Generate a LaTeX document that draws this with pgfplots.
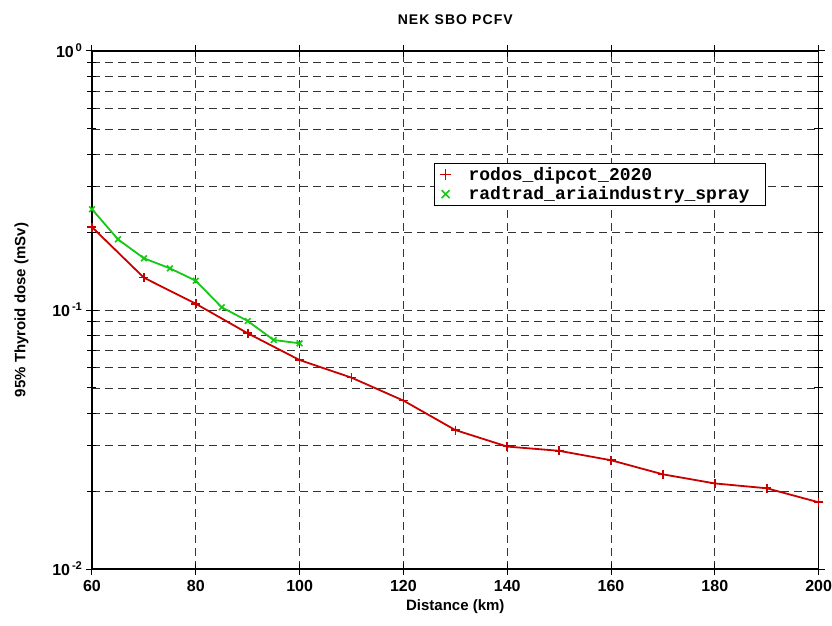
\documentclass[border=0pt]{standalone}
\usepackage{fontspec}
\setmainfont{Liberation Sans}
\setmonofont{Liberation Mono}
\usepackage{pgfplots}
\pgfplotsset{compat=1.18}
\definecolor{rodosred}{RGB}{200,0,0}
\definecolor{radgreen}{RGB}{20,200,20}
\begin{document}
\begin{tikzpicture}
\begin{axis}[
  scale only axis,
  width=726.6pt, height=518pt,
  ymode=log,
  xmin=60, xmax=200,
  ymin=0.01, ymax=1,
  xtick={60,80,...,200},
  ytick={0.01,0.1,1},
  yticklabels={10\textsuperscript{\,-2},10\textsuperscript{\,-1},10\textsuperscript{\,0}},
  /pgf/number format/assume math mode=true,
  tick label style={font=\fontsize{16}{18}\selectfont\bfseries},
  xticklabel style={yshift=-2pt},
  label style={font=\fontsize{15}{18}\selectfont\bfseries},
  xlabel={Distance (km)},
  ylabel={95\% Thyroid dose (mSv)},
  xlabel style={yshift=-1pt},
  ylabel style={yshift=17pt},
  title={NEK SBO PCFV},
  title style={font=\fontsize{14}{16}\selectfont\bfseries\addfontfeatures{LetterSpace=8}, yshift=17pt},
  grid=both,
  major grid style={black!80, line width=0.9pt, dash pattern=on 8pt off 5pt},
  minor grid style={black!80, line width=0.9pt, dash pattern=on 8pt off 5pt},
  minor x tick num=0,
  axis line style={line width=1.2pt},
  tick style={black, line width=1pt},
  tick align=center,
  major tick length=12pt,
  minor tick length=9pt,
  legend style={at={(0.471,0.784)}, anchor=north west, draw=black, line width=0.8pt,
    font=\fontsize{18}{21}\selectfont\ttfamily\bfseries,
    inner xsep=4pt, inner ysep=2pt, row sep=1pt},
  legend cell align=left,
  legend image code/.code={\path[draw=none, fill=none] (0pt,0pt) -- (28pt,0pt);
    \draw[#1, mark size=5.5pt] plot[only marks] coordinates {(7pt,0pt)};},
]
\addplot[color=rodosred, line width=1.8pt, mark=+, mark size=4.5pt,
  mark options={line width=1.6pt}]
  coordinates {
  (60,0.209) (70,0.1333) (80,0.1057) (90,0.0813) (100,0.0641)
  (110,0.0548) (120,0.0447) (130,0.0344) (140,0.0297) (150,0.0286)
  (160,0.0263) (170,0.0232) (180,0.0214) (190,0.0205) (200,0.0181)
};
\addlegendentry{rodos\_dipcot\_2020}
\addplot[color=radgreen, line width=1.8pt, mark=x, mark size=4pt,
  mark options={line width=1.6pt}]
  coordinates {
  (60,0.245) (65,0.1875) (70,0.1584) (75,0.1449) (80,0.1297)
  (85,0.1024) (90,0.0907) (95,0.0766) (100,0.0744)
};
\addlegendentry{radtrad\_ariaindustry\_spray\hspace*{10pt}}
\end{axis}
\pgfresetboundingbox
\path ([shift={(-92pt,-57pt)}]current axis.south west) rectangle ([shift={(13.4pt,51pt)}]current axis.north east);
\end{tikzpicture}
\end{document}
